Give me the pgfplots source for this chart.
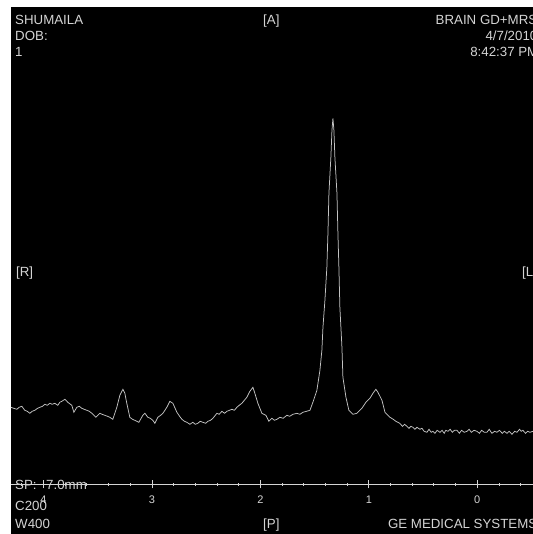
\documentclass[border=0pt]{standalone}
\usepackage{pgfplots}
\pgfplotsset{compat=1.18}
\usepackage{fontspec}
\setmainfont{Liberation Sans}
\definecolor{txt}{RGB}{212,212,212}
\definecolor{trace}{RGB}{195,195,195}
\begin{document}
\begin{tikzpicture}
\useasboundingbox (0,0) rectangle (533bp,534bp);
\clip (0,0) rectangle (533bp,534bp);
\fill[white] (0,0) rectangle (533bp,534bp);
\fill[black] (11bp,0) rectangle (533bp,527bp);
\begin{axis}[
  at={(11bp,49.7bp)}, anchor=south west,
  scale only axis, width=522bp, height=477.3bp,
  xmin=-0.514, xmax=4.30, ymin=0, ymax=477.3,
  x dir=reverse,
  axis x line=bottom, axis y line=none,
  axis line style={txt, line width=0.8bp, -},
  xtick={0,1,2,3,4},
  minor xtick={-0.4,-0.2,0.2,0.4,0.6,0.8,1.2,1.4,1.6,1.8,2.2,2.4,2.6,2.8,3.2,3.4,3.6,3.8,4.2},
  tick align=center,
  major tick length=8bp, minor tick length=3bp,
  tick style={txt, line width=0.8bp},
  ytick=\empty,
  xticklabel style={font=\fontsize{11bp}{12bp}\selectfont, text=txt, anchor=north, inner sep=0pt, yshift=-7.4bp},
  /pgf/number format/assume math mode=true,
  clip=false,
]
\addplot[trace, line width=0.75bp] coordinates {
(4.302,77) (4.274,76) (4.246,75) (4.225,77) (4.200,78) (4.173,74) (4.150,73) (4.126,71) (4.105,73) (4.080,74)
(4.055,76) (4.034,77) (4.010,78) (3.988,80) (3.965,79) (3.942,81) (3.920,80) (3.896,81) (3.868,79) (3.850,82)
(3.831,83) (3.803,85) (3.776,82) (3.739,79) (3.720,72) (3.693,77) (3.670,78) (3.647,76) (3.625,75) (3.601,74)
(3.578,73) (3.554,71) (3.517,67) (3.481,71) (3.460,70) (3.435,69) (3.410,68) (3.388,67) (3.361,65) (3.324,77)
(3.296,89) (3.268,95) (3.250,91) (3.232,81) (3.204,67) (3.180,65) (3.158,64) (3.121,62) (3.084,69) (3.065,71)
(3.038,67) (3.015,66) (2.992,64) (2.973,61) (2.946,67) (2.920,69) (2.899,71) (2.863,77) (2.835,83) (2.807,81)
(2.770,72) (2.745,68) (2.724,65) (2.700,63) (2.678,62) (2.650,60) (2.623,62) (2.600,60) (2.577,61) (2.555,63)
(2.531,62) (2.505,61) (2.484,63) (2.460,64) (2.438,66) (2.401,71) (2.380,70) (2.355,73) (2.330,71) (2.309,73)
(2.285,74) (2.263,75) (2.240,74) (2.217,77) (2.195,79) (2.171,81) (2.125,87) (2.097,93) (2.069,97) (2.051,91)
(2.023,81) (1.986,71) (1.949,69) (1.922,63) (1.894,66) (1.870,64) (1.848,65) (1.820,67) (1.790,66) (1.756,69)
(1.730,68) (1.700,70) (1.663,71) (1.635,70) (1.608,72) (1.575,73) (1.543,74) (1.516,82) (1.479,94) (1.451,114)
(1.433,134) (1.423,157) (1.405,184) (1.387,217) (1.377,251) (1.368,291) (1.350,327) (1.340,354) (1.331,366)
(1.322,354) (1.313,327) (1.294,291) (1.285,251) (1.276,217) (1.267,177) (1.248,137) (1.239,107) (1.211,87)
(1.184,74) (1.147,70) (1.110,71) (1.064,76) (1.027,82) (0.990,86) (0.962,91) (0.935,95) (0.916,92) (0.879,84)
(0.851,72) (0.805,67) (0.775,65) (0.750,63) (0.715,61)
(0.690,58) (0.670,60) (0.649,58) (0.630,56) (0.612,58) (0.593,57) (0.575,55) (0.556,57) (0.529,55) (0.510,56)
(0.490,53) (0.464,52) (0.445,55) (0.425,52) (0.409,53) (0.390,51) (0.370,54) (0.344,52) (0.325,54) (0.305,51)
(0.290,54) (0.270,53) (0.250,55) (0.230,52) (0.210,54) (0.187,54) (0.165,51) (0.145,54) (0.120,52) (0.095,53)
(0.075,55) (0.055,52) (0.030,54) (0.003,53) (-0.020,51) (-0.040,54) (-0.065,52) (-0.089,52) (-0.110,55)
(-0.135,51) (-0.160,53) (-0.181,52) (-0.205,54) (-0.230,51) (-0.250,53) (-0.274,51) (-0.295,53) (-0.320,50)
(-0.345,53) (-0.366,52) (-0.390,55) (-0.405,53) (-0.421,54) (-0.445,51) (-0.465,53) (-0.486,52) (-0.514,53)
};
\end{axis}
\begin{scope}[every node/.style={inner sep=0pt, text=txt, font=\fontsize{13.3bp}{15bp}\selectfont}]
\node[anchor=base west] at (15bp,509bp) {SHUMAILA};
\node[anchor=base west] at (15bp,493bp) {DOB:};
\node[anchor=base west] at (15bp,477bp) {1};
\node[anchor=base west] at (263bp,509bp) {[A]};
\node[anchor=base east] at (537.5bp,509bp) {BRAIN GD+MRS};
\node[anchor=base east] at (537.5bp,493bp) {4/7/2010};
\node[anchor=base east] at (538.5bp,477bp) {8:42:37 PM};
\node[anchor=base west] at (16bp,257.4bp) {[R]};
\node[anchor=base west] at (522bp,257.4bp) {[L]};
\node[anchor=base west] at (15bp,44bp) {SP:};
\node[anchor=base west] at (46bp,44bp) {7.0mm};
\node[anchor=base west] at (15bp,24bp) {C200};
\node[anchor=base west] at (15bp,5.7bp) {W400};
\node[anchor=base west] at (263bp,5.7bp) {[P]};
\node[anchor=base east] at (537.5bp,5.7bp) {GE MEDICAL SYSTEMS};
\end{scope}
\end{tikzpicture}
\end{document}
